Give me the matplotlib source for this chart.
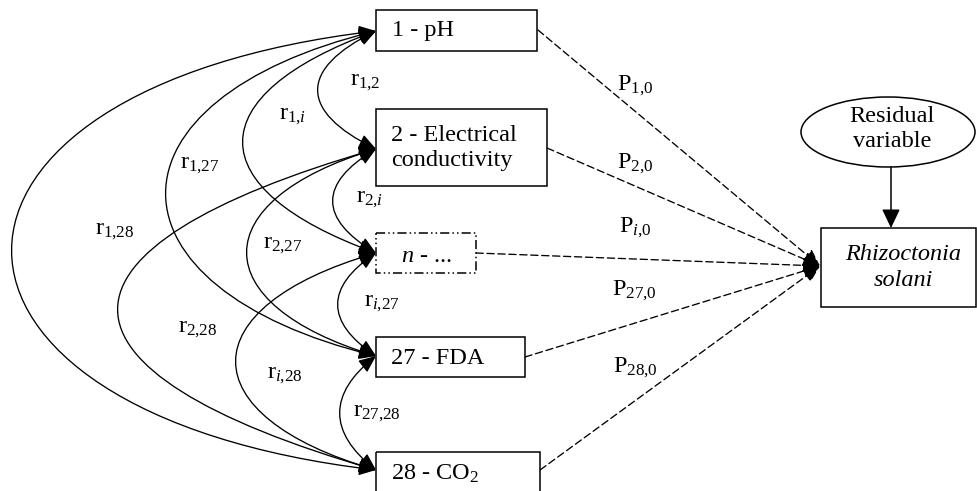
import matplotlib
matplotlib.use('Agg')
import matplotlib.pyplot as plt
import numpy as np
from matplotlib.patches import Rectangle, Ellipse, FancyArrowPatch
from matplotlib.path import Path

plt.rcParams['font.family'] = ['Liberation Serif', 'DejaVu Serif']
plt.rcParams['mathtext.fontset'] = 'custom'
plt.rcParams['mathtext.rm'] = 'Liberation Serif'
plt.rcParams['mathtext.it'] = 'Liberation Serif:italic'
plt.rcParams['mathtext.default'] = 'regular'

# ---- diagram content ----
node_labels = ["1 - pH", "2 - Electrical\nconductivity", r"$\mathit{n}$ - ...", "27 - FDA", "28 - CO$_2$"]
corr_pairs = [(0, 1), (0, 2), (0, 3), (0, 4), (1, 2), (1, 3), (1, 4), (2, 3), (2, 4), (3, 4)]
corr_labels = ["r$_{1{,}2}$", r"r$_{1{,}\mathit{i}}$", "r$_{1{,}27}$", "r$_{1{,}28}$", r"r$_{2{,}\mathit{i}}$",
               "r$_{2{,}27}$", "r$_{2{,}28}$", r"r$_{\mathit{i}{,}27}$", r"r$_{\mathit{i}{,}28}$", "r$_{27{,}28}$"]
path_labels = ["P$_{1{,}0}$", "P$_{2{,}0}$", r"P$_{\mathit{i}{,}0}$", "P$_{27{,}0}$", "P$_{28{,}0}$"]
target_label = "Rhizoctonia\nsolani"
residual_label = "Residual\nvariable"

# ---- layout (pixel coordinates, y down) ----
W, H = 977, 491
boxes = [(376, 10, 537, 51), (376, 109, 547, 186), (376, 233, 476, 273),
         (376, 337, 525, 377), (376, 452, 540, 505)]
box_styles = ['-', '-', (0, (6, 2, 1, 2, 1, 2)), '-', '-']
text_x = [392, 391, 426, 391, 391]
text_ha = ['left', 'left', 'center', 'left', 'left']
text_y = [30, 148, 256, 358, 474]
attach_y = [31, 149, 253, 356, 470]
# leftmost x of each correlation arc, and end slope factor
arc_xmin = [318, 243, 166, 12, 333, 247, 118, 338, 236, 340]
arc_s = [0.32, 0.29, 0.21, 0.13, 0.33, 0.25, 0.31, 0.33, 0.25, 0.33]
corr_pos = [(365, 82), (293, 116), (200, 166), (115, 232), (370, 199),
            (283, 245), (198, 329), (382, 303), (285, 376), (377, 413)]
path_pos = [(635, 86), (635, 164), (635, 228), (634, 291), (635, 368)]
path_start = [(538, 30), (547, 148), (476, 253), (525, 357), (540, 470)]
target_tip = (820, 266)
target_box = (821, 228, 976, 307)
ell_c, ell_w, ell_h = (888, 132), 174, 70

fig = plt.figure(figsize=(W / 100, H / 100), dpi=100)
ax = fig.add_axes([0, 0, 1, 1])
ax.set_xlim(0, W)
ax.set_ylim(H, 0)
ax.axis('off')

fs = 17.5
head = '<|-|>,head_length=1.05,head_width=0.45'

# variable boxes
for (x0, y0, x1, y1), ls, lab, tx, ha, ty in zip(boxes, box_styles, node_labels, text_x, text_ha, text_y):
    ax.add_patch(Rectangle((x0, y0), x1 - x0, y1 - y0, fill=False, lw=1.1, ls=ls, ec='black'))
    ax.text(tx, ty, lab, ha=ha, va='center', fontsize=fs, linespacing=1.28, multialignment='left')

# correlation arcs (double headed)
x_att = boxes[0][0]
for (i, j), xmin, s, lab, pos in zip(corr_pairs, arc_xmin, arc_s, corr_labels, corr_pos):
    y1, y2 = attach_y[i], attach_y[j]
    L = y2 - y1
    a = (x_att - xmin) / 0.75
    verts = [(x_att, y1), (x_att - a, y1 + s * L), (x_att - a, y2 - s * L), (x_att, y2)]
    p = Path(verts, [Path.MOVETO, Path.CURVE4, Path.CURVE4, Path.CURVE4])
    ax.add_patch(FancyArrowPatch(path=p, arrowstyle=head, mutation_scale=10, lw=0.95,
                                 color='black', shrinkA=0, shrinkB=0))
    ax.text(pos[0], pos[1], lab, ha='center', va='center', fontsize=fs)

# direct effects (dashed)
for st, lab, pos in zip(path_start, path_labels, path_pos):
    ax.add_patch(FancyArrowPatch(st, target_tip, arrowstyle='-|>,head_length=1.05,head_width=0.45',
                                 mutation_scale=10, lw=0.95, color='black',
                                 linestyle=(0, (5.5, 2.8)), shrinkA=0, shrinkB=0))
    ax.text(pos[0], pos[1], lab, ha='center', va='center', fontsize=fs)

# target box
tx0, ty0, tx1, ty1 = target_box
ax.add_patch(Rectangle((tx0, ty0), tx1 - tx0, ty1 - ty0, fill=False, lw=1.1, ec='black'))
ax.text((tx0 + tx1) / 2 + 5, (ty0 + ty1) / 2, target_label, ha='center', va='center',
        fontsize=fs, style='italic', linespacing=1.28)

# residual variable
ax.add_patch(Ellipse(ell_c, ell_w, ell_h, fill=False, lw=1.1, ec='black'))
ax.text(ell_c[0] + 4, ell_c[1] - 3, residual_label, ha='center', va='center', fontsize=fs,
        linespacing=1.22)
ax.add_patch(FancyArrowPatch((ell_c[0] + 3, ell_c[1] + ell_h / 2), (ell_c[0] + 3, ty0),
                             arrowstyle='-|>,head_length=1.15,head_width=0.55', mutation_scale=10,
                             lw=1.1, color='black', shrinkA=0, shrinkB=0))

fig.savefig('out.png', dpi=100)
